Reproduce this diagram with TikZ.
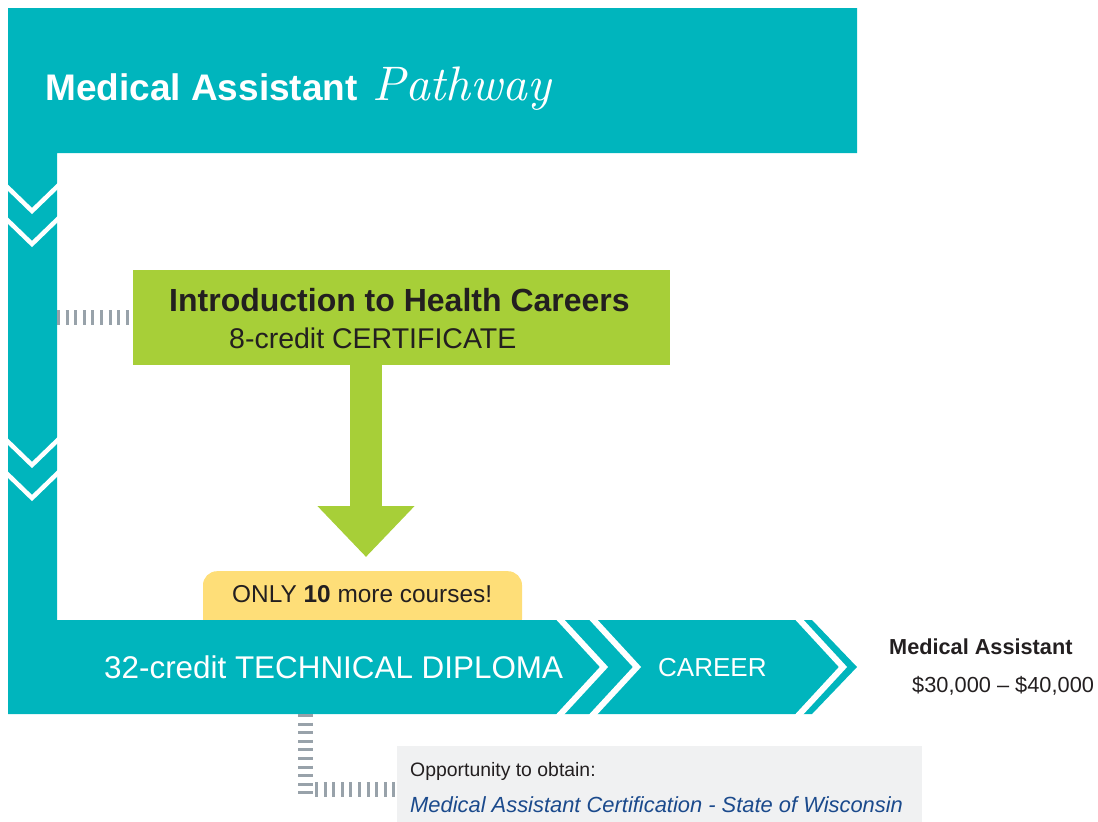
\documentclass[tikz,border=0pt]{standalone}
\usepackage{fontspec}
\setmainfont{Liberation Sans}
\newfontfamily\handfont{lmroman10-italic.otf}
\usetikzlibrary{arrows.meta}
\definecolor{pathteal}{RGB}{0,181,189}
\definecolor{introgreen}{RGB}{167,207,56}
\definecolor{noteyellow}{RGB}{254,222,120}
\definecolor{linkgray}{RGB}{152,162,170}
\definecolor{boxgray}{RGB}{240,241,242}
\definecolor{darktext}{RGB}{35,31,32}
\definecolor{certblue}{RGB}{27,74,140}
\begin{document}
\begin{tikzpicture}[x=1pt, y=-1pt,
    txt/.style={inner sep=0pt, anchor=base west, text=darktext},
    greenbox/.style={fill=introgreen, inner sep=0pt},
    notebox/.style={fill=noteyellow, inner sep=0pt, rounded corners=14pt},
    certbox/.style={fill=boxgray, inner sep=0pt},
    dashlink/.style={draw=linkgray, line width=15pt, dash pattern=on 3pt off 5.6pt},
    vchevron/.style={draw=white, line width=4.5pt},
    hchevron/.style={draw=white, line width=6pt},
    greenarrow/.style={draw=introgreen, line width=32pt, -{Triangle[length=51pt, width=94pt]}}]
    \useasboundingbox (0,0) rectangle (1098,822);

    \node[notebox, minimum width=319pt, minimum height=62pt, anchor=north] (note) at (362.5,571) {};

    % teal pathway
    \fill[pathteal] (8,8) -- (857,8) -- (857,153) -- (57,153) -- (57,620) -- (812,620)
        -- (857,667) -- (812,714) -- (8,714) -- cycle;
    \foreach \t in {211,244,465,498}
        \draw[vchevron] (0,\t-31) -- (32,\t) -- (64,\t-31);
    \foreach \t in {604,637,843}
        \draw[hchevron] (\t-48,615) -- (\t,667) -- (\t-48,719);
    \coordinate (leftbar) at (57,153);
    \coordinate (barfoot) at (305,714);
    \coordinate (elbow) at (305,789);

    \node[greenbox, minimum width=537pt, minimum height=95pt] (intro) at (401.5,317.5) {};
    \node[certbox, minimum width=525pt, minimum height=76pt, anchor=north west] (cert) at (397,746) {};
    \coordinate (arrowtip) at (366,557);

    \node[txt, text=white] (title) at (45,100) {\fontsize{37}{40}\selectfont\bfseries Medical Assistant};
    \node[txt, text=white] (titlescript) at (372,100) {\fontsize{48.5}{50}\selectfont\handfont Pathway};
    \node[txt] (introhead) at (169,311) {\fontsize{32}{36}\selectfont\bfseries Introduction to Health Careers};
    \node[txt] (introsub) at (229,348) {\fontsize{28.5}{32}\selectfont 8-credit CERTIFICATE};
    \node[txt] (notetext) at (232,602) {\fontsize{24.4}{28}\selectfont ONLY \textbf{10} more courses!};
    \node[txt, text=white] (diploma) at (104,678) {\fontsize{31.4}{34}\selectfont 32-credit TECHNICAL DIPLOMA};
    \node[txt, text=white] (career) at (658,676) {\fontsize{26}{30}\selectfont CAREER};
    \node[txt] (job) at (889,654) {\fontsize{21.7}{24}\selectfont\bfseries Medical Assistant};
    \node[txt] (salary) at (912,692) {\fontsize{21.8}{24}\selectfont \$30,000 \textendash\ \$40,000};
    \node[txt] (opportunity) at (410,776) {\fontsize{19.4}{22}\selectfont Opportunity to obtain:};
    \node[txt, text=certblue] (certname) at (410,812) {\fontsize{21.9}{24}\selectfont\itshape Medical Assistant Certification - State of Wisconsin};

    \draw[greenarrow] (arrowtip |- intro.south) -- (arrowtip);
    \draw[dashlink] (leftbar |- intro.west) -- (intro.west);
    \draw[dashlink] (barfoot) -- ([yshift=-8pt]elbow);
    \draw[dashlink] ([xshift=10pt]elbow) -- (cert.west |- elbow);
\end{tikzpicture}
\end{document}
